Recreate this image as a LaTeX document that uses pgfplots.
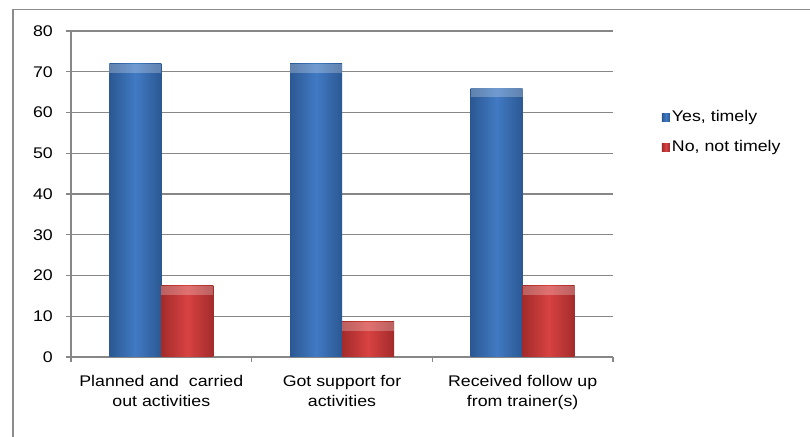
\documentclass[border=0pt]{standalone}
\usepackage{fontspec}
\setmainfont{Liberation Sans}[FakeStretch=1.15]
\usepackage{pgfplots}
\pgfplotsset{compat=1.18}
\usetikzlibrary{shapes.geometric}
\definecolor{gridgray}{HTML}{878787}
\definecolor{framegray}{HTML}{8C8C8C}
\definecolor{blueedge}{HTML}{2B5893}
\definecolor{bluemid}{HTML}{417AC3}
\definecolor{rededge}{HTML}{A32B2B}
\definecolor{redmid}{HTML}{D84242}
\newcommand{\chartfont}{\fontsize{15.5}{20}\selectfont}
\pgfplotsset{
  yesbar/.style={draw=none, left color=blueedge, right color=blueedge,
    middle color=bluemid, bar shift=-26bp},
  nobar/.style={draw=none, left color=rededge, right color=rededge,
    middle color=redmid, bar shift=26bp},
}
\begin{document}
\begin{tikzpicture}[x=1bp,y=1bp]
\path[use as bounding box] (0,0) rectangle (810,437);
\draw[framegray, line width=1.2bp] (13,0) -- (13,427.5) -- (810,427.5);
\begin{axis}[
  at={(71bp,80bp)}, anchor=south west,
  width=542bp, height=326bp, scale only axis,
  xmin=-0.5, xmax=2.5, ymin=0, ymax=80,
  ytick={0,10,...,80},
  xtick={0,1,2},
  xticklabels={{Planned and\ \ carried\\out activities},{Got support for\\activities},{Received follow up\\from trainer(s)}},
  minor xtick={-0.5,0.5,1.5,2.5},
  axis x line*=bottom, axis y line*=left,
  axis line style={gridgray, line width=1.2bp},
  ymajorgrids, grid style={gridgray, line width=1.2bp},
  tick align=outside,
  major tick length=5bp, minor tick length=5bp,
  major x tick style={draw=none},
  minor x tick style={gridgray, line width=1.2bp},
  ytick style={gridgray, line width=1.2bp},
  /pgf/number format/assume math mode=true,
  yticklabel style={font=\chartfont, anchor=east, inner sep=0pt, xshift=-13bp},
  xticklabel style={font=\chartfont, align=center, anchor=north, inner sep=0pt, yshift=-13bp},
  ybar=0pt, bar width=52bp,
  % lighter bevel along the top of each bar
  nodes near coords={\hphantom{00}},
  every node near coord/.append style={shape=trapezium, trapezium angle=45,
    trapezium stretches=true, shape border rotate=180,
    minimum width=52bp, minimum height=9bp, inner sep=0pt,
    fill=white, fill opacity=0.25, draw=none, anchor=north},
  legend style={at={(1.09,0.69)}, anchor=west, draw=none, fill=none,
    inner sep=0pt, row sep=12bp,
    nodes={inner sep=2bp, text height=11bp, text depth=3bp, font=\chartfont}},
  legend cell align=left,
  legend image code/.code={\path[#1] (0bp,-4bp) rectangle (8bp,4bp);},
]
% one plot per bar, so that each bar carries its own shading
\addplot[yesbar] coordinates {(0,72)};
\addplot[nobar] coordinates {(0,17.5)};
\addplot[yesbar, forget plot] coordinates {(1,72)};
\addplot[yesbar, forget plot] coordinates {(2,66)};
\addplot[nobar, forget plot] coordinates {(1,8.6)};
\addplot[nobar, forget plot] coordinates {(2,17.5)};
\legend{{Yes, timely},{No, not timely}}
\end{axis}
\end{tikzpicture}
\end{document}
